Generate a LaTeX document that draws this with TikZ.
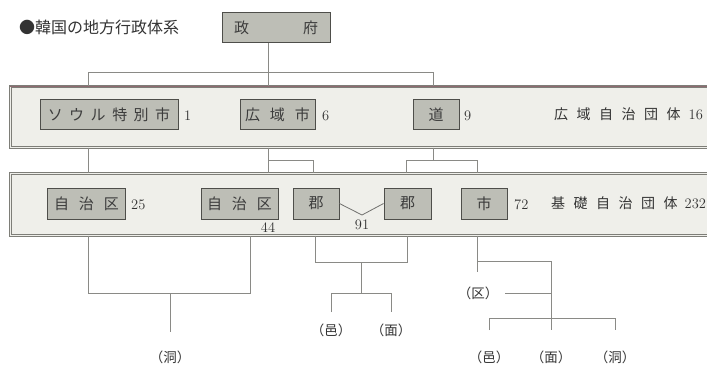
\documentclass[tikz,border=0pt]{standalone}
\usepackage{fontspec}
\newfontfamily\jp{Noto Sans CJK JP}
\definecolor{bandfill}{HTML}{EFEFEA}
\definecolor{bandline}{HTML}{7E7E78}
\definecolor{bandtop}{HTML}{8E6A70}
\definecolor{boxfill}{HTML}{BDBEB6}
\definecolor{boxline}{HTML}{4E4E4A}
\definecolor{boxtext}{HTML}{3C3C3C}
\definecolor{linecol}{HTML}{8A8A86}
\definecolor{txt}{HTML}{333333}
\newcommand{\gp}{\hspace{6.5pt}}
\newcommand{\gq}{\hspace{10pt}}
\begin{document}
\begin{tikzpicture}[x=1pt,y=-1pt,
  band/.style={draw=bandline, fill=bandfill, line width=0.6pt, double=bandfill, double distance=1.6pt, anchor=north west, inner sep=0pt},
  kbox/.style={draw=boxline, fill=boxfill, line width=0.9pt, minimum height=30pt, inner sep=0pt, text=boxtext, font=\jp\fontsize{15}{15}\selectfont},
  num/.style={inner sep=0pt, text=txt, font=\fontsize{14.5}{14.5}\selectfont},
  jtxt/.style={inner sep=0pt, text=txt, font=\jp\fontsize{14}{14}\selectfont},
  paren/.style={inner sep=0pt, text=txt, font=\jp\fontsize{13.5}{13.5}\selectfont},
  conn/.style={draw=linecol, line width=0.8pt}]
\useasboundingbox (0,0) rectangle (707,367);
\fill[white] (0,0) rectangle (707,367);

% title
\node[inner sep=0pt, anchor=west, text=txt, font=\jp\fontsize{16}{16}\selectfont] (title) at (19,27) {●韓国の地方行政体系};

% bands
\node[band, minimum width=705pt, minimum height=61pt] (band1) at (10,86) {};
\draw[bandtop, line width=0.9pt] (band1.north west) -- (band1.north east);
\node[band, minimum width=705pt, minimum height=62pt] (band2) at (10,173) {};

% government
\node[kbox, minimum width=108pt] (gov) at (276,27.5) {政\hspace{54pt}府};

% connectors top
\coordinate (g1) at (268,72);
\coordinate (gl) at (88,72);
\coordinate (gr) at (433,72);
\draw[conn] (gov.south -| g1) -- (g1 |- band1.north);
\draw[conn] (gl |- band1.north) -- (gl) -- (gr) -- (gr |- band1.north);

% band1 boxes
\node[kbox, minimum width=138pt] (seoul) at (109,114.5) {ソ\gp ウ\gp ル\gp 特\gp 別\gp 市};
\node[kbox, minimum width=75pt] (kouiki) at (277.5,114.5) {広\gq 域\gq 市};
\node[kbox, minimum width=46pt] (dou) at (436,114.5) {道};
\node[num, anchor=west] (n1) at (184,115.5) {1};
\node[num, anchor=west] (n6) at (322,115.5) {6};
\node[num, anchor=west] (n9) at (464,115.5) {9};
\node[jtxt, anchor=west] (kt) at (554,114.5) {広\hspace{8.5pt}域\hspace{8.5pt}自\hspace{8.5pt}治\hspace{8.5pt}団\hspace{8.5pt}体\hspace{8pt}{\rmfamily\fontsize{14.5}{14.5}\selectfont 16}};

% band1 -> band2 connectors
\coordinate (a1) at (88,160);
\coordinate (a2) at (268,160);
\coordinate (a3) at (313,160);
\coordinate (a4) at (433,160);
\coordinate (a5) at (406,160);
\coordinate (a6) at (477,160);
\draw[conn] (a1 |- band1.south) -- (a1 |- band2.north);
\draw[conn] (a2 |- band1.south) -- (a2 |- band2.north);
\draw[conn] (a2) -- (a3) -- (a3 |- band2.north);
\draw[conn] (a4 |- band1.south) -- (a4);
\draw[conn] (a5 |- band2.north) -- (a5) -- (a6) -- (a6 |- band2.north);

% band2 boxes
\node[kbox, minimum width=78pt, minimum height=31pt] (jc1) at (86.5,203.5) {自\gq 治\gq 区};
\node[kbox, minimum width=77pt, minimum height=31pt] (jc2) at (239.5,203.5) {自\gq 治\gq 区};
\node[kbox, minimum width=46pt, minimum height=31pt] (gun1) at (316,203.5) {郡};
\node[kbox, minimum width=47pt, minimum height=31pt] (gun2) at (407.5,203.5) {郡};
\node[kbox, minimum width=46pt, minimum height=31pt] (shi) at (484,203.5) {市};
\node[num, anchor=west] (n25) at (131,204.5) {25};
\node[num] (n44) at (268,228) {44};
\node[num] (n91) at (362,225) {91};
\node[num, anchor=west] (n72) at (514,204.5) {72};
\node[jtxt, anchor=west] (kb) at (551,203.5) {基\hspace{8.5pt}礎\hspace{8.5pt}自\hspace{8.5pt}治\hspace{8.5pt}団\hspace{8.5pt}体\hspace{7pt}{\rmfamily\fontsize{14.5}{14.5}\selectfont 232}};

\coordinate (vb) at (362,215);
\draw[conn, boxline!80] (gun1.east) -- (vb) -- (gun2.west);

% below band2: jichi-ku
\coordinate (c1) at (88,293);
\coordinate (c2) at (250,293);
\coordinate (c3) at (170,293);
\coordinate (c4) at (170,332);
\draw[conn] (c1 |- band2.south) -- (c1) -- (c2) -- (c2 |- band2.south);
\draw[conn] (c3) -- (c4);
\node[paren] (dong1) at (170,357) {（洞）};

% gun
\coordinate (d1) at (315,262);
\coordinate (d2) at (407,262);
\coordinate (d3) at (361,262);
\coordinate (d4) at (361,293);
\coordinate (d5) at (331,293);
\coordinate (d6) at (391,293);
\node[paren] (eup1) at (331,330) {（邑）};
\node[paren] (myeon1) at (391,330) {（面）};
\draw[conn] (d1 |- band2.south) -- (d1) -- (d2) -- (d2 |- band2.south);
\draw[conn] (d3) -- (d4);
\draw[conn] (d5 |- 0,312) -- (d5) -- (d6) -- (d6 |- 0,312);

% shi
\coordinate (e1) at (477,272);
\coordinate (e2) at (477,261);
\coordinate (e3) at (551,261);
\coordinate (e4) at (551,293);
\coordinate (e5) at (505,293);
\coordinate (e6) at (489,318);
\coordinate (e7) at (615,318);
\coordinate (e8) at (551,318);
\node[paren] (gu) at (478,293) {（区）};
\node[paren] (eup2) at (489,357) {（邑）};
\node[paren] (myeon2) at (551,357) {（面）};
\node[paren] (dong2) at (615,357) {（洞）};
\draw[conn] (e1 |- band2.south) -- (e1);
\draw[conn] (e2) -- (e3) -- (e3 |- 0,330);
\draw[conn] (e5) -- (e4);
\draw[conn] (e6 |- 0,330) -- (e6) -- (e7) -- (e7 |- 0,330);
\end{tikzpicture}
\end{document}
